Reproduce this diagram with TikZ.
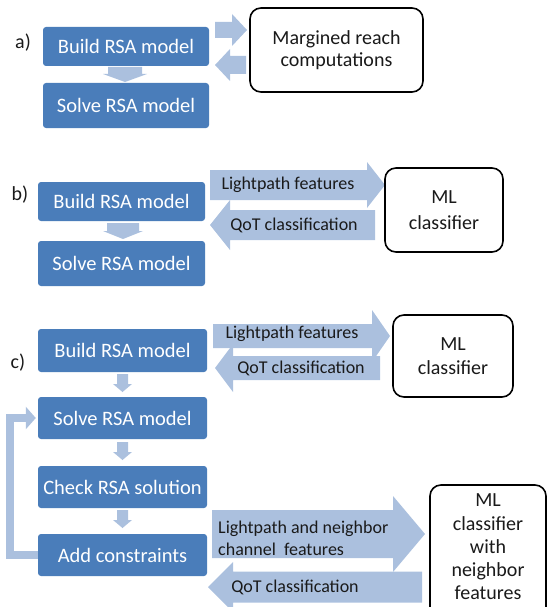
\documentclass[tikz,border=0pt]{standalone}
\usepackage{fontspec}
\setmainfont{Carlito}
\usetikzlibrary{arrows.meta}
\definecolor{boxblue}{HTML}{4A7DBA}
\definecolor{arrblue}{HTML}{ABC0DE}
\definecolor{txtdark}{HTML}{1A1A1A}
% right block arrow: x1 (tail) x2 (head base) x3 (tip) yc halfbody halfhead
\newcommand{\rightblk}[6]{\fill[arrblue] (#1,#4-#5) -- (#2,#4-#5) -- (#2,#4-#6) -- (#3,#4) -- (#2,#4+#6) -- (#2,#4+#5) -- (#1,#4+#5) -- cycle;}
% left block arrow: x1 (tip) x2 (head base) x3 (tail) yc halfbody halfhead
\newcommand{\leftblk}[6]{\fill[arrblue] (#1,#4) -- (#2,#4-#6) -- (#2,#4-#5) -- (#3,#4-#5) -- (#3,#4+#5) -- (#2,#4+#5) -- (#2,#4+#6) -- cycle;}
% down block arrow: xc y1 (tail) y2 (head base) y3 (tip) halfbody halfhead
\newcommand{\downblk}[6]{\fill[arrblue] (#1-#5,#2) -- (#1+#5,#2) -- (#1+#5,#3) -- (#1+#6,#3) -- (#1,#4) -- (#1-#6,#3) -- (#1-#5,#3) -- cycle;}
\begin{document}
\begin{tikzpicture}[x=1pt,y=-1pt,
  bluebox/.style={fill=boxblue, rounded corners=3pt, text=white,
    font=\fontsize{20.5}{24}\selectfont, inner sep=0pt},
  whitebox/.style={draw=black, line width=1.6pt, rounded corners=11pt, fill=white,
    text=txtdark, align=center, inner sep=0pt},
  lbl/.style={text=txtdark, font=\fontsize{18}{22}\selectfont, inner sep=0pt},
  tag/.style={text=txtdark, font=\fontsize{20}{24}\selectfont, inner sep=0pt}]
\useasboundingbox (0,0) rectangle (549,607);
\clip (0,0) rectangle (549,607);

% ---------------- a) ----------------
\node[tag] (tagA) at (23,43) {a)};
\node[bluebox, minimum width=166pt, minimum height=39pt] (buildA) at (126,46.5) {Build RSA model};
\node[bluebox, minimum width=166pt, minimum height=45pt] (solveA) at (126,105.5) {Solve RSA model};
\downblk{125}{67}{74}{82}{17}{22}
\rightblk{215}{232}{247}{30}{8}{16}
\leftblk{215}{230}{246}{65}{9}{16}
\node[whitebox, minimum width=173pt, minimum height=84pt,
  font=\fontsize{20}{22}\selectfont] (reachA) at (336.5,50) {Margined reach\\computations};

% ---------------- b) ----------------
\node[tag] (tagB) at (20,195) {b)};
\node[bluebox, minimum width=167pt, minimum height=39pt] (buildB) at (121.5,201.5) {Build RSA model};
\node[bluebox, minimum width=167pt, minimum height=45pt] (solveB) at (121.5,263.5) {Solve RSA model};
\downblk{123}{223}{231}{239}{16}{20}
\rightblk{210}{367}{385}{185}{15}{23}
\leftblk{210}{230}{375}{225}{15}{25}
\node[lbl] (featB) at (288,185) {Lightpath features};
\node[lbl] (qotB) at (294,225) {QoT classification};
\node[whitebox, minimum width=118pt, minimum height=84pt,
  font=\fontsize{20}{26}\selectfont] (mlB) at (444,210) {ML\\classifier};

% ---------------- c) ----------------
\node[tag] (tagC) at (18,363) {c)};
\node[bluebox, minimum width=169pt, minimum height=43pt] (buildC) at (122.5,350.5) {Build RSA model};
\node[bluebox, minimum width=169pt, minimum height=42pt] (solveC) at (122.5,418) {Solve RSA model};
\node[bluebox, minimum width=169pt, minimum height=42pt] (checkC) at (122.5,487) {Check RSA solution};
\node[bluebox, minimum width=169pt, minimum height=42pt] (addC) at (122.5,555) {Add constraints};
\downblk{122.5}{374}{384}{392}{5.5}{9.5}
\downblk{122.5}{442}{452}{460}{5.5}{9.5}
\downblk{122.5}{510}{520}{528}{5.5}{9.5}
% feedback loop
\coordinate (fbB) at (10,555);
\coordinate (fbT) at (10,418);
\draw[arrblue, line width=8pt, line join=miter, -{Triangle[length=10pt,width=22pt]}]
  (addC.west) -- (fbB) -- (fbT) -- ([xshift=-2pt]solveC.west);
% upper arrows
\rightblk{213}{372}{390}{336}{12}{26}
\leftblk{215}{233}{380}{368}{12}{24}
\node[lbl] (featC) at (292,334) {Lightpath features};
\node[lbl] (qotC) at (301,368) {QoT classification};
\node[whitebox, minimum width=120pt, minimum height=82pt,
  font=\fontsize{20}{24}\selectfont] (mlC) at (453,356) {ML\\classifier};
% lower arrows
\rightblk{212}{393}{425}{534}{24}{38}
\leftblk{208}{233}{422}{587}{15.5}{25}
\node[lbl, align=left, anchor=west] (featN) at (218,538) {Lightpath and neighbor\\channel\ \ features};
\node[lbl] (qotN) at (295,587) {QoT classification};
\node[whitebox, minimum width=116pt, minimum height=135pt] (mlN) at (488,552.5) {};
\node[text=txtdark, align=center, inner sep=0pt,
  font=\fontsize{20}{23.2}\selectfont] (mlNtext) at (488,547) {ML\\classifier\\with\\neighbor\\features};
\end{tikzpicture}
\end{document}
